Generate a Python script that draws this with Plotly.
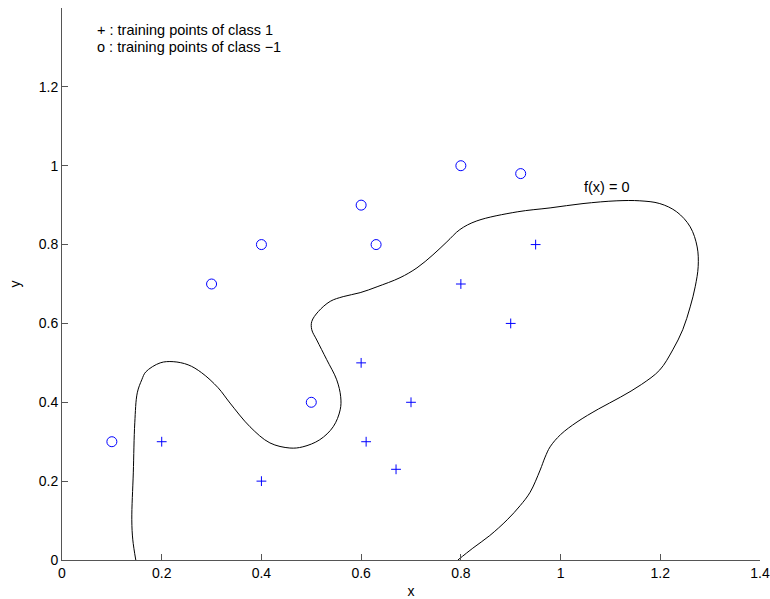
import plotly.graph_objects as go

# Training points
pos_x = [0.2, 0.4, 0.6, 0.61, 0.67, 0.7, 0.8, 0.9, 0.95]
pos_y = [0.3, 0.2, 0.5, 0.3, 0.23, 0.4, 0.7, 0.6, 0.8]
neg_x = [0.1, 0.3, 0.4, 0.5, 0.6, 0.63, 0.8, 0.92]
neg_y = [0.3, 0.7, 0.8, 0.4, 0.9, 0.8, 1.0, 0.98]

# Decision boundary f(x) = 0
curve_x = [0.148, 0.142, 0.140, 0.143, 0.146, 0.151, 0.160, 0.168, 0.197, 0.223,
           0.253, 0.280, 0.313, 0.337, 0.377, 0.417, 0.457, 0.483, 0.517, 0.544,
           0.558, 0.559, 0.551, 0.531, 0.511, 0.501, 0.501, 0.514, 0.538, 0.564,
           0.598, 0.632, 0.678, 0.712, 0.744, 0.772, 0.798, 0.832, 0.913,
           0.979, 1.045, 1.113, 1.159, 1.199, 1.233, 1.260, 1.274, 1.276, 1.270,
           1.260, 1.245, 1.225, 1.199, 1.162, 1.120, 1.076, 1.033, 1.000, 0.979,
           0.969, 0.959, 0.939, 0.919, 0.893, 0.858, 0.824, 0.794]
curve_y = [0.000, 0.051, 0.102, 0.221, 0.348, 0.424, 0.457, 0.477, 0.500, 0.503,
           0.495, 0.475, 0.437, 0.398, 0.338, 0.297, 0.284, 0.287, 0.305, 0.338,
           0.381, 0.414, 0.457, 0.508, 0.558, 0.584, 0.605, 0.630, 0.656, 0.668,
           0.678, 0.693, 0.716, 0.741, 0.774, 0.807, 0.838, 0.860, 0.883,
           0.893, 0.904, 0.911, 0.911, 0.904, 0.883, 0.845, 0.794, 0.744, 0.693,
           0.642, 0.584, 0.533, 0.482, 0.445, 0.413, 0.383, 0.350, 0.318, 0.287,
           0.261, 0.228, 0.172, 0.138, 0.102, 0.062, 0.030, 0.000]

x_ticks = [0, 0.2, 0.4, 0.6, 0.8, 1.0, 1.2, 1.4]
x_labels = ["0", "0.2", "0.4", "0.6", "0.8", "1", "1.2", "1.4"]
y_ticks = [0, 0.2, 0.4, 0.6, 0.8, 1.0, 1.2]
y_labels = ["0", "0.2", "0.4", "0.6", "0.8", "1", "1.2"]

FONT = "Liberation Sans, Arial, Helvetica, sans-serif"
AXC = "#555555"
FS = 14
FA = 14.5

fig = go.Figure()
fig.add_trace(go.Scatter(x=curve_x, y=curve_y, mode="lines",
                         line=dict(color="black", width=1, shape="spline",
                                   smoothing=1),
                         showlegend=False))
fig.add_trace(go.Scatter(x=pos_x, y=pos_y, mode="markers",
                         marker=dict(symbol="cross-thin", size=7,
                                     line=dict(color="#0000ff", width=1)),
                         showlegend=False))
fig.add_trace(go.Scatter(x=neg_x, y=neg_y, mode="markers",
                         marker=dict(symbol="circle-open", size=10, color="#0000ff",
                                     line=dict(color="#0000ff", width=1)),
                         showlegend=False))

fig.add_annotation(x=0.066, y=1.345, text="+ : training points of class 1",
                   showarrow=False, xanchor="left", yanchor="middle",
                   font=dict(family=FONT, size=FA, color="black"))
fig.add_annotation(x=0.066, y=1.302, text="o : training points of class \u22121",
                   showarrow=False, xanchor="left", yanchor="middle",
                   font=dict(family=FONT, size=FA, color="black"))
fig.add_annotation(x=1.042, y=0.947, text="f(x) = 0",
                   showarrow=False, xanchor="left", yanchor="middle",
                   font=dict(family=FONT, size=FA, color="black"))

fig.update_layout(
    template="none",
    width=770, height=599,
    margin=dict(l=62, r=10, t=8, b=39),
    paper_bgcolor="white", plot_bgcolor="white",
    font=dict(family=FONT, size=FS, color="black"),
    xaxis=dict(range=[0, 1.4], tickvals=x_ticks, ticktext=x_labels,
               automargin=False,
               showgrid=False, zeroline=False, showline=True, linecolor=AXC,
               linewidth=1, ticks="inside", ticklen=6, tickcolor=AXC,
               title=dict(text="x", standoff=7, font=dict(size=FS))),
    yaxis=dict(range=[0, 1.4], tickvals=y_ticks, ticktext=y_labels,
               automargin=False,
               showgrid=False, zeroline=False, showline=True, linecolor=AXC,
               linewidth=1, ticks="inside", ticklen=6, tickcolor=AXC,
               title=dict(text="y", standoff=14, font=dict(size=FS))),
)

fig.write_html("out.html")
